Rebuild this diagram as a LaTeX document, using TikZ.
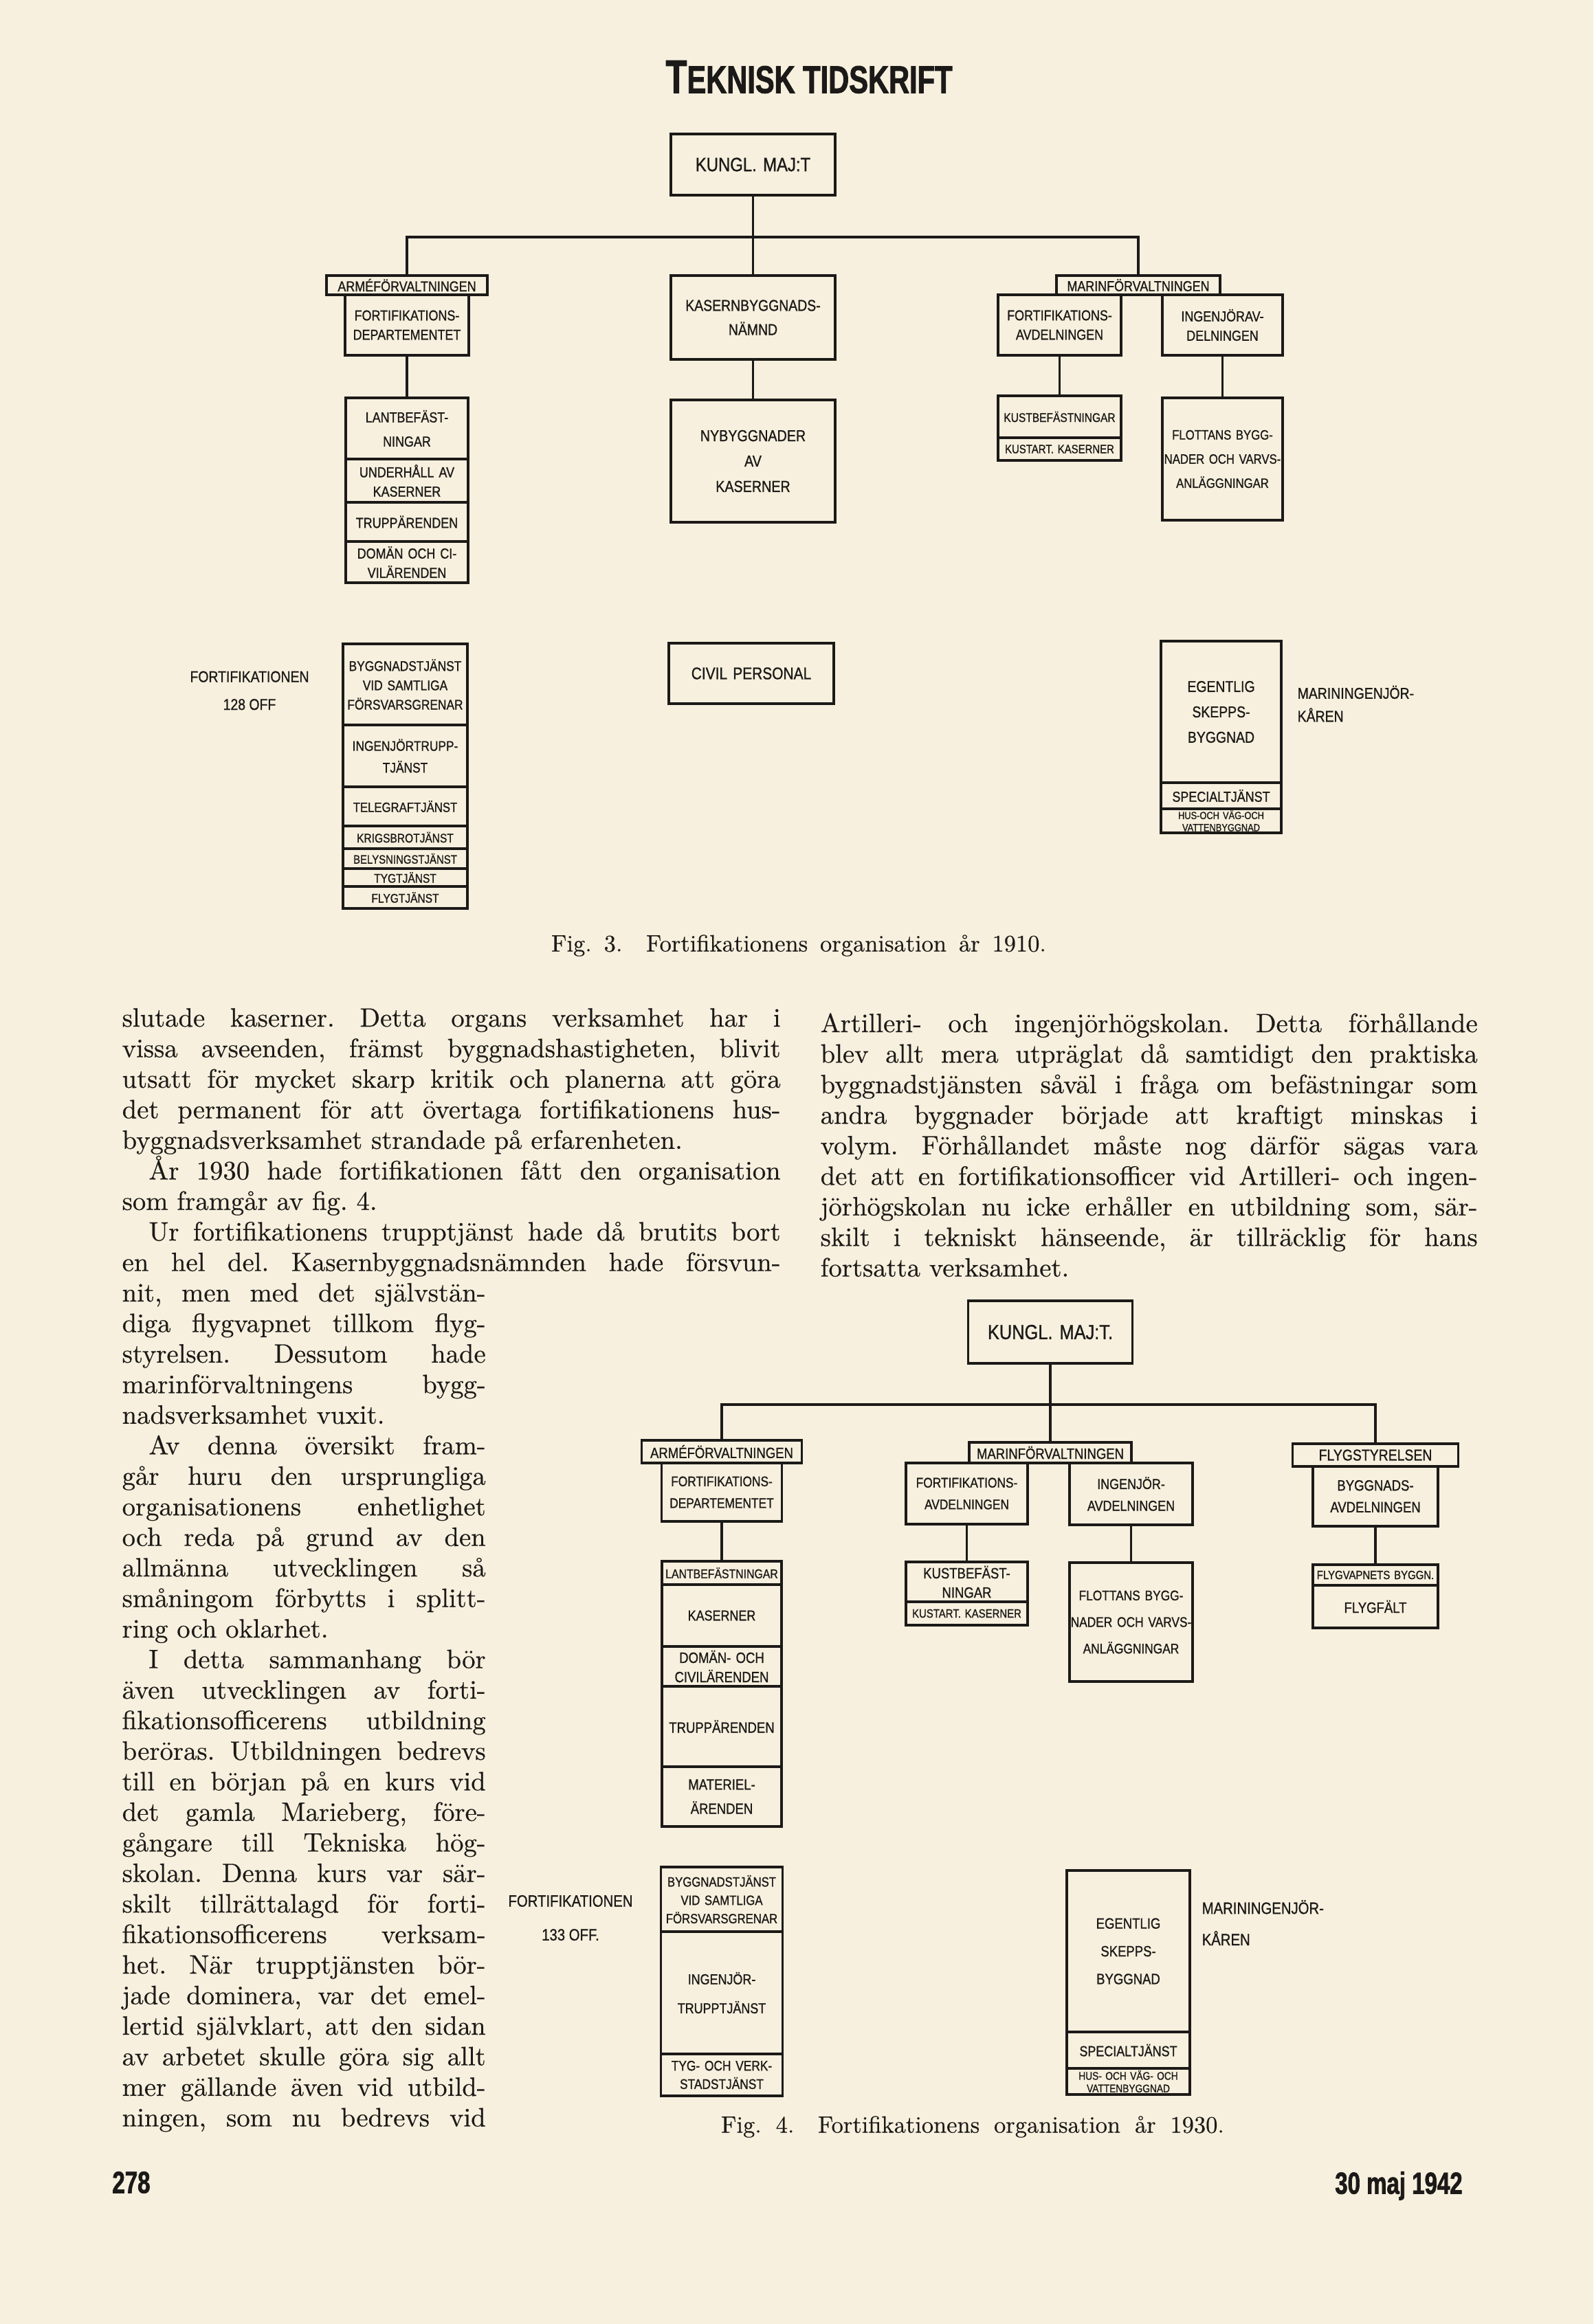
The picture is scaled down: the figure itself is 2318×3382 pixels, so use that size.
\documentclass[tikz,border=0pt]{standalone}
\usepackage{fontspec}
\usepackage{tikz}
\setmainfont{Latin Modern Roman}[FakeBold=0.45]
\newfontfamily\ritfont[FakeStretch=0.85,FakeBold=1]{Liberation Sans}
\newfontfamily\rubrikfont[FakeStretch=0.74,FakeBold=1.6]{Liberation Sans}
\definecolor{papper}{RGB}{247,240,222}
\definecolor{blaeck}{RGB}{28,26,24}
\newcommand{\rf}[2]{\ritfont\fontsize{#1}{#2}\selectfont}
\frenchspacing

\tikzset{
  ruta/.style 2 args={draw=blaeck, line width=1.1pt, inner sep=0pt, text width=#1,
    minimum height=#2, align=center, text=blaeck, font=\rf{6}{8}},
  linje/.style={draw=blaeck, line width=0.9pt},
  etikett/.style={inner sep=0pt, text=blaeck, align=center, font=\rf{6.5}{8}},
  brodtext/.style={inner sep=0pt, text=blaeck, anchor=base west, align=justify,
    font=\fontsize{11}{12.65}\selectfont},
  bildtext/.style={inner sep=0pt, text=blaeck, font=\fontsize{9.8}{11}\selectfont}
}

\begin{document}
\begin{tikzpicture}[x=0.1mm,y=-0.1mm]
  \fill[papper] (0,0) rectangle (2318,3382);
  \useasboundingbox (0,0) rectangle (2318,3382);

  % sidhuvud
  \node[inner sep=0pt, text=blaeck, font=\rubrikfont\bfseries] (rubrik) at (1177,112)
    {{\fontsize{19.5}{20}\selectfont T}{\fontsize{16}{20}\selectfont EKNISK T}{\fontsize{16}{20}\selectfont IDSKRIFT}};

  % --- Fig. 3 (1910) ---
  \node[ruta={23.9mm}{8.9mm}, font=\rf{8}{9}] (kung3) at (1095.5,239.5) {KUNGL. MAJ:T};
  \coordinate (bus3) at (1095.5,345);

  \node[ruta={23.4mm}{2.8mm}] (arme3) at (592,415) {ARMÉFÖRVALTNINGEN};
  \node[ruta={18mm}{8.8mm}] (fdep3) at (592,473) {FORTIFIKATIONS-\\DEPARTEMENTET};
  \node[ruta={17.8mm}{8.9mm}, font=\rf{6}{10}] (lant3a) at (592,623.5) {LANTBEFÄST-\\NINGAR};
  \node[ruta={17.8mm}{6.3mm}] (lant3b) at (592,699.5) {UNDERHÅLL AV\\KASERNER};
  \node[ruta={17.8mm}{5.7mm}] (lant3c) at (592,759.5) {TRUPPÄRENDEN};
  \node[ruta={17.8mm}{6mm}] (lant3d) at (592,818) {DOMÄN OCH CI-\\VILÄRENDEN};

  \node[ruta={23.9mm}{12.2mm}, font=\rf{6.5}{10}] (kasern3) at (1095.5,462) {KASERNBYGGNADS-\\NÄMND};
  \node[ruta={23.9mm}{17.8mm}, font=\rf{6.6}{10.5}] (nybygg3) at (1095.5,671) {NYBYGGNADER\\AV\\KASERNER};

  \node[ruta={23.8mm}{2.8mm}] (marin3) at (1656,415) {MARINFÖRVALTNINGEN};
  \node[ruta={17.9mm}{8.8mm}] (favd3) at (1541.5,473) {FORTIFIKATIONS-\\AVDELNINGEN};
  \node[ruta={17.5mm}{8.8mm}] (iavd3) at (1778.5,473) {INGENJÖRAV-\\DELNINGEN};
  \node[ruta={17.9mm}{6.1mm}, font=\rf{5.2}{6}] (kust3a) at (1541.5,606.5) {KUSTBEFÄSTNINGAR};
  \node[ruta={17.9mm}{3.3mm}, font=\rf{5}{6}] (kust3b) at (1541.5,653.5) {KUSTART. KASERNER};
  \node[ruta={17.5mm}{17.8mm}, font=\rf{5.6}{10}] (flott3) at (1778.5,668) {FLOTTANS BYGG-\\NADER OCH VARVS-\\ANLÄGGNINGAR};

  \draw[linje] (kung3.south) -- (kasern3.north);
  \draw[linje] (arme3.north) |- (bus3) -| (marin3.north);
  \draw[linje] (fdep3.south) -- (lant3a.north);
  \draw[linje] (kasern3.south) -- (nybygg3.north);
  \draw[linje] (favd3.south) -- (kust3a.north);
  \draw[linje] (iavd3.south) -- (flott3.north);

  \node[etikett, font=\rf{6.5}{11.5}] (fort3) at (363,1005) {FORTIFIKATIONEN\\128 OFF};
  \node[ruta={18.1mm}{11.8mm}, font=\rf{5.8}{8}] (tj3a) at (589.5,996) {BYGGNADSTJÄNST\\VID SAMTLIGA\\FÖRSVARSGRENAR};
  \node[ruta={18.1mm}{9mm}, font=\rf{5.8}{9}] (tj3b) at (589.5,1100) {INGENJÖRTRUPP-\\TJÄNST};
  \node[ruta={18.1mm}{5.7mm}, font=\rf{5.6}{7}] (tj3c) at (589.5,1173.5) {TELEGRAFTJÄNST};
  \node[ruta={18.1mm}{3.3mm}, font=\rf{5.2}{6}] (tj3d) at (589.5,1218.5) {KRIGSBROTJÄNST};
  \node[ruta={18.1mm}{2.9mm}, font=\rf{5}{6}] (tj3e) at (589.5,1249.5) {BELYSNINGSTJÄNST};
  \node[ruta={18.1mm}{2.6mm}, font=\rf{5.2}{6}] (tj3f) at (589.5,1277) {TYGTJÄNST};
  \node[ruta={18.1mm}{3.2mm}, font=\rf{5.2}{6}] (tj3g) at (589.5,1306) {FLYGTJÄNST};

  \node[ruta={24mm}{8.8mm}, font=\rf{7}{8}] (civil3) at (1093,980) {CIVIL PERSONAL};

  \node[ruta={17.5mm}{20.6mm}, font=\rf{6.5}{10.5}] (skepp3a) at (1776.5,1036) {EGENTLIG\\SKEPPS-\\BYGGNAD};
  \node[ruta={17.5mm}{3.8mm}] (skepp3b) at (1776.5,1158) {SPECIALTJÄNST};
  \node[ruta={17.5mm}{3.5mm}, font=\rf{4.3}{5}] (skepp3c) at (1776.5,1194.5) {HUS-OCH VÄG-OCH\\VATTENBYGGNAD};
  \node[etikett, anchor=west, align=left, font=\rf{6.5}{9.5}] (maring3) at (1887,1024) {MARININGENJÖR-\\KÅREN};

  \node[bildtext] (fig3text) at (1162,1376)
    {\makebox[72mm][s]{Fig.\ 3.\quad Fortifikationens organisation år 1910.}};

  % --- brödtext ---
  \node[brodtext, text width=95.8mm] (spaltA) at (177,1494) {\tolerance=10000\relax\hyphenpenalty=10000\relax
slutade kaserner. Detta organs verksamhet har i\linebreak
vissa avseenden, främst byggnadshastigheten, blivit\linebreak
utsatt för mycket skarp kritik och planerna att göra\linebreak
det permanent för att övertaga fortifikationens hus-\linebreak
byggnadsverksamhet strandade på erfarenheten.\par
\hspace*{1em}År 1930 hade fortifikationen fått den organisation\linebreak
som framgår av fig.~4.\par
\hspace*{1em}Ur fortifikationens trupptjänst hade då brutits bort\linebreak
en hel del. Kasernbyggnadsnämnden hade försvun-\parfillskip=0pt\par};

  \node[brodtext, text width=95.6mm] (spaltB) at (1193,1502) {\tolerance=10000\relax\hyphenpenalty=10000\relax
Artilleri- och ingenjörhögskolan. Detta förhållande\linebreak
blev allt mera utpräglat då samtidigt den praktiska\linebreak
byggnadstjänsten såväl i fråga om befästningar som\linebreak
andra byggnader började att kraftigt minskas i\linebreak
volym. Förhållandet måste nog därför sägas vara\linebreak
det att en fortifikationsofficer vid Artilleri- och ingen-\linebreak
jörhögskolan nu icke erhåller en utbildning som, sär-\linebreak
skilt i tekniskt hänseende, är tillräcklig för hans\linebreak
fortsatta verksamhet.};

  \node[brodtext, text width=52.9mm] (spaltC) at (177,1894) {\tolerance=10000\relax\hyphenpenalty=10000\relax
nit, men med det självstän-\linebreak
diga flygvapnet tillkom flyg-\linebreak
styrelsen. Dessutom hade\linebreak
marinförvaltningens bygg-\linebreak
nadsverksamhet vuxit.\par
\hspace*{1em}Av denna översikt fram-\linebreak
går huru den ursprungliga\linebreak
organisationens enhetlighet\linebreak
och reda på grund av den\linebreak
allmänna utvecklingen så\linebreak
småningom förbytts i splitt-\linebreak
ring och oklarhet.\par
\hspace*{1em}I detta sammanhang bör\linebreak
även utvecklingen av forti-\linebreak
fikationsofficerens utbildning\linebreak
beröras. Utbildningen bedrevs\linebreak
till en början på en kurs vid\linebreak
det gamla Marieberg, före-\linebreak
gångare till Tekniska hög-\linebreak
skolan. Denna kurs var sär-\linebreak
skilt tillrättalagd för forti-\linebreak
fikationsofficerens verksam-\linebreak
het. När trupptjänsten bör-\linebreak
jade dominera, var det emel-\linebreak
lertid självklart, att den sidan\linebreak
av arbetet skulle göra sig allt\linebreak
mer gällande även vid utbild-\linebreak
ningen, som nu bedrevs vid\parfillskip=0pt\par};

  % --- Fig. 4 (1930) ---
  \node[ruta={23.9mm}{9.1mm}, font=\rf{8.5}{10}] (kung4) at (1528,1938.5) {KUNGL. MAJ:T.};
  \coordinate (bus4) at (1528,2044);

  \node[ruta={23.3mm}{3.3mm}, font=\rf{6.2}{7}] (arme4) at (1050,2112.5) {ARMÉFÖRVALTNINGEN};
  \node[ruta={17.5mm}{8.5mm}, font=\rf{5.8}{9}] (fdep4) at (1050,2171.5) {FORTIFIKATIONS-\\DEPARTEMENTET};
  \node[ruta={17.4mm}{3.4mm}, font=\rf{5.3}{6}] (lant4a) at (1050,2289) {LANTBEFÄSTNINGAR};
  \node[ruta={17.4mm}{9mm}] (lant4b) at (1050,2351) {KASERNER};
  \node[ruta={17.4mm}{5.8mm}, font=\rf{6.2}{8}] (lant4c) at (1050,2425) {DOMÄN- OCH\\CIVILÄRENDEN};
  \node[ruta={17.4mm}{11.7mm}, font=\rf{6.2}{7}] (lant4d) at (1050,2512.5) {TRUPPÄRENDEN};
  \node[ruta={17.4mm}{8.7mm}, font=\rf{6.2}{10}] (lant4e) at (1050,2614.5) {MATERIEL-\\ÄRENDEN};

  \node[etikett, font=\rf{6.8}{14}] (fort4) at (830,2791) {FORTIFIKATIONEN\\133 OFF.};
  \node[ruta={17.7mm}{9.4mm}, font=\rf{5.6}{7.6}] (tj4a) at (1050,2764) {BYGGNADSTJÄNST\\VID SAMTLIGA\\FÖRSVARSGRENAR};
  \node[ruta={17.7mm}{17.8mm}, font=\rf{6}{12}] (tj4b) at (1050,2900) {INGENJÖR-\\TRUPPTJÄNST};
  \node[ruta={17.7mm}{6.1mm}, font=\rf{5.8}{7.6}] (tj4c) at (1050,3019.5) {TYG- OCH VERK-\\STADSTJÄNST};

  \node[ruta={23.6mm}{3mm}, font=\rf{6.2}{7}] (marin4) at (1528,2114) {MARINFÖRVALTNINGEN};
  \node[ruta={17.7mm}{8.9mm}, font=\rf{5.8}{9}] (favd4) at (1406.5,2173.5) {FORTIFIKATIONS-\\AVDELNINGEN};
  \node[ruta={17.9mm}{9mm}, font=\rf{6}{9}] (iavd4) at (1645.5,2174) {INGENJÖR-\\AVDELNINGEN};
  \node[ruta={17.7mm}{5.8mm}, font=\rf{6.2}{8}] (kust4a) at (1406.5,2302) {KUSTBEFÄST-\\NINGAR};
  \node[ruta={17.7mm}{3.4mm}, font=\rf{5}{6}] (kust4b) at (1406.5,2348) {KUSTART. KASERNER};
  \node[ruta={17.9mm}{17.3mm}, font=\rf{5.8}{11}] (flott4) at (1645.5,2360.5) {FLOTTANS BYGG-\\NADER OCH VARVS-\\ANLÄGGNINGAR};

  \node[ruta={24.1mm}{3.3mm}, font=\rf{6.5}{7}] (flyg4) at (2001,2117.5) {FLYGSTYRELSEN};
  \node[ruta={18.2mm}{8.7mm}, font=\rf{6.2}{9}] (bavd4) at (2001,2177.5) {BYGGNADS-\\AVDELNINGEN};
  \node[ruta={18.2mm}{3mm}, font=\rf{5}{6}] (fvb4a) at (2001,2292) {FLYGVAPNETS BYGGN.};
  \node[ruta={18.2mm}{6.2mm}, font=\rf{6.2}{7}] (fvb4b) at (2001,2338) {FLYGFÄLT};

  \draw[linje] (kung4.south) -- (marin4.north);
  \draw[linje] (arme4.north) |- (bus4) -| (flyg4.north);
  \draw[linje] (fdep4.south) -- (lant4a.north);
  \draw[linje] (favd4.south) -- (kust4a.north);
  \draw[linje] (iavd4.south) -- (flott4.north);
  \draw[linje] (bavd4.south) -- (fvb4a.north);

  \node[ruta={17.9mm}{23.5mm}, font=\rf{6.2}{11.5}] (skepp4a) at (1641.5,2839.5) {EGENTLIG\\SKEPPS-\\BYGGNAD};
  \node[ruta={17.9mm}{5.3mm}] (skepp4b) at (1641.5,2983.5) {SPECIALTJÄNST};
  \node[ruta={17.9mm}{3.8mm}, font=\rf{4.6}{5.2}] (skepp4c) at (1641.5,3029) {HUS- OCH VÄG- OCH\\VATTENBYGGNAD};
  \node[etikett, anchor=west, align=left, font=\rf{6.8}{13}] (maring4) at (1748,2798) {MARININGENJÖR-\\KÅREN};

  \node[bildtext] (fig4text) at (1415,3095)
    {\makebox[73.2mm][s]{Fig.\ 4.\quad Fortifikationens organisation år 1930.}};

  % sidfot
  \node[inner sep=0pt, text=blaeck, font=\rubrikfont\bfseries\fontsize{12.7}{13}\selectfont] (sidnr) at (191,3176) {278};
  \node[inner sep=0pt, text=blaeck, font=\rubrikfont\bfseries\fontsize{12.7}{13}\selectfont] (datum) at (2035,3181) {30 maj 1942};
\end{tikzpicture}
\end{document}
